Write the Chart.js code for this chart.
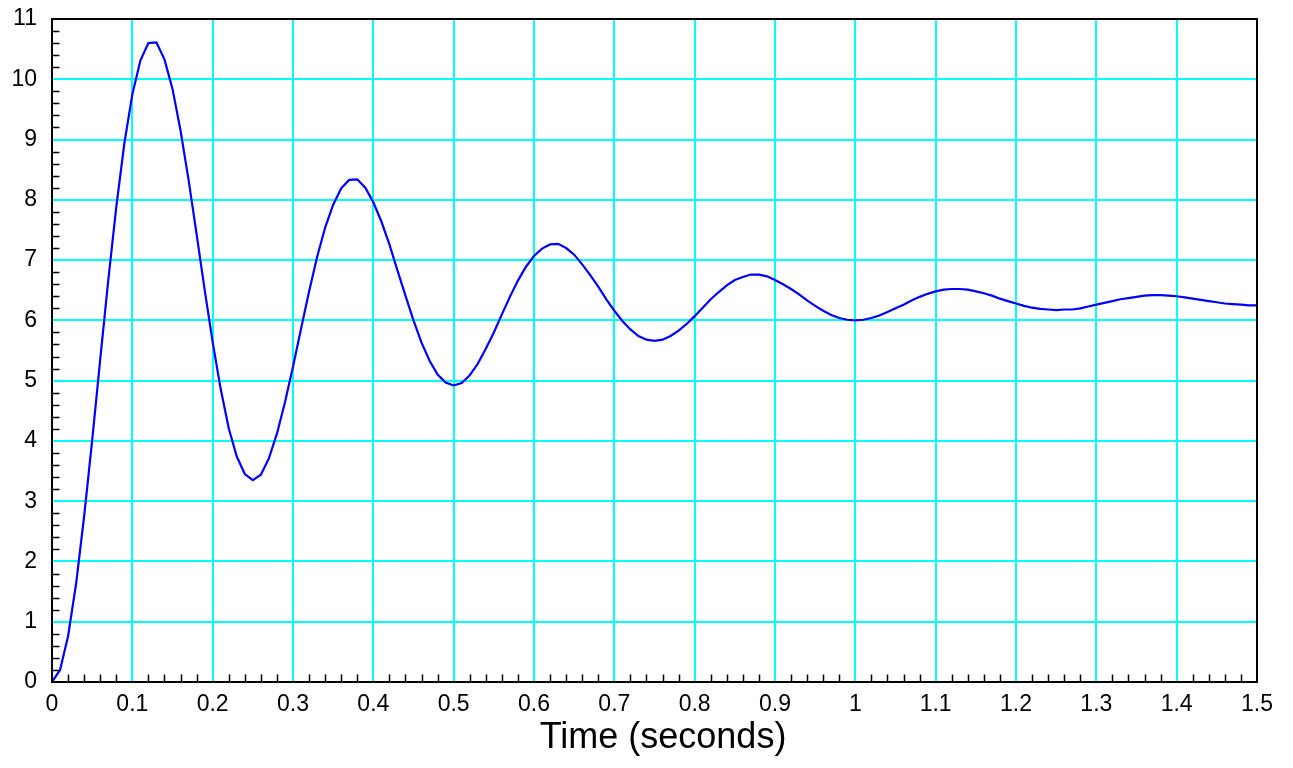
<!DOCTYPE html>
<html>
<head>
<meta charset="utf-8">
<script src="https://cdn.jsdelivr.net/npm/chart.js@4.4.1/dist/chart.umd.min.js"></script>
<style>
  html, body { margin: 0; padding: 0; background: #ffffff; }
  #c { display: block; }
</style>
</head>
<body>
<canvas id="c" width="1293" height="768"></canvas>
<script>
// ---- data ----
const timeStep = 0.01; // sample spacing in seconds
const response = [
  0.00, 0.20, 0.76, 1.63, 2.75, 4.01, 5.35, 6.66, 7.88, 8.93,
  9.75, 10.31, 10.60, 10.61, 10.33, 9.84, 9.15, 8.33, 7.43, 6.51,
  5.64, 4.86, 4.21, 3.74, 3.45, 3.35, 3.44, 3.71, 4.12, 4.64,
  5.23, 5.86, 6.48, 7.05, 7.54, 7.92, 8.19, 8.33, 8.34, 8.20,
  7.96, 7.64, 7.26, 6.83, 6.41, 6.00, 5.63, 5.33, 5.10, 4.97,
  4.92, 4.96, 5.09, 5.28, 5.53, 5.80, 6.10, 6.39, 6.66, 6.89,
  7.07, 7.19, 7.26, 7.27, 7.20, 7.09, 6.93, 6.75, 6.56, 6.35,
  6.16, 5.99, 5.85, 5.74, 5.68, 5.66, 5.68, 5.74, 5.83, 5.94,
  6.07, 6.21, 6.35, 6.47, 6.58, 6.67, 6.72, 6.76, 6.76, 6.73,
  6.67, 6.60, 6.52, 6.43, 6.33, 6.24, 6.16, 6.09, 6.04, 6.01,
  6.00, 6.01, 6.04, 6.08, 6.14, 6.20, 6.26, 6.33, 6.39, 6.44,
  6.48, 6.51, 6.52, 6.52, 6.51, 6.48, 6.45, 6.41, 6.36, 6.32,
  6.28, 6.24, 6.21, 6.19, 6.18, 6.17, 6.18, 6.18, 6.20, 6.23,
  6.26, 6.29, 6.32, 6.35, 6.37, 6.39, 6.41, 6.42, 6.42, 6.41,
  6.40, 6.38, 6.36, 6.34, 6.32, 6.30, 6.28, 6.27, 6.26, 6.25, 6.25
];
const xTickLabels = ['0','0.1','0.2','0.3','0.4','0.5','0.6','0.7','0.8','0.9','1','1.1','1.2','1.3','1.4','1.5'];
const yTickLabels = ['0','1','2','3','4','5','6','7','8','9','10','11'];
const xAxisTitle = 'Time (seconds)';

const points = response.map((v, i) => ({ x: +(i * timeStep).toFixed(2), y: v }));

const FONT = '"Liberation Sans", Arial, Helvetica, sans-serif';
const GRID = '#00FFFF';

const frameAndMinor = {
  id: 'frameAndMinor',
  afterDraw(chart) {
    const { ctx, chartArea: a, scales } = chart;
    const xs = scales.x, ys = scales.y;
    ctx.save();
    ctx.strokeStyle = '#000';
    ctx.lineWidth = 1.5;
    ctx.beginPath();
    for (let i = 0; i < (yTickLabels.length - 1) * 5; i++) {
      if (i % 5 === 0) continue;
      const py = Math.round(ys.getPixelForValue(i / 5)) + 0.5;
      ctx.moveTo(a.left, py);
      ctx.lineTo(a.left + 7.5, py);
    }
    for (let i = 0; i < (xTickLabels.length - 1) * 5; i++) {
      if (i % 5 === 0) continue;
      const px = Math.round(xs.getPixelForValue(i * 0.02)) + 0.5;
      ctx.moveTo(px, a.bottom);
      ctx.lineTo(px, a.bottom - 7.5);
    }
    ctx.stroke();
    ctx.lineWidth = 2;
    ctx.strokeRect(a.left, a.top, a.right - a.left, a.bottom - a.top);
    ctx.fillStyle = '#000';
    ctx.font = '36px ' + FONT;
    ctx.textAlign = 'center';
    ctx.textBaseline = 'alphabetic';
    ctx.fillText(xAxisTitle, (a.left + a.right) / 2 + 8.5, 748);
    ctx.restore();
  }
};

new Chart(document.getElementById('c'), {
  type: 'line',
  data: {
    datasets: [{
      data: points,
      borderColor: '#0000FF',
      borderWidth: 2.2,
      pointRadius: 0,
      tension: 0,
      fill: false
    }]
  },
  options: {
    responsive: false,
    animation: false,
    devicePixelRatio: 1,
    layout: { padding: { top: 19, right: 36, left: 0, bottom: 0 } },
    plugins: { legend: { display: false }, tooltip: { enabled: false } },
    scales: {
      x: {
        type: 'linear',
        min: 0, max: 1.5,
        afterFit(s) { s.height = 86; s.paddingLeft = 0; s.paddingRight = 0; },
        afterBuildTicks(s) { s.ticks = xTickLabels.map((l) => ({ value: parseFloat(l) })); },
        ticks: {
          autoSkip: false, maxRotation: 0, padding: 9,
          color: '#000',
          font: { family: FONT, size: 23 },
          callback: (v, i) => xTickLabels[i]
        },
        grid: { color: GRID, lineWidth: 2, drawTicks: false },
        border: { display: true, color: '#000', width: 2 }
      },
      y: {
        type: 'linear',
        min: 0, max: 11,
        afterFit(s) { s.width = 52; s.paddingTop = 0; s.paddingBottom = 0; },
        afterBuildTicks(s) { s.ticks = yTickLabels.map((l) => ({ value: parseFloat(l) })); },
        ticks: {
          padding: 15,
          color: '#000',
          font: { family: FONT, size: 23 },
          callback: (v, i) => yTickLabels[i]
        },
        grid: { color: GRID, lineWidth: 2, drawTicks: false },
        border: { display: true, color: '#000', width: 2 }
      }
    }
  },
  plugins: [frameAndMinor]
});
</script>
</body>
</html>
